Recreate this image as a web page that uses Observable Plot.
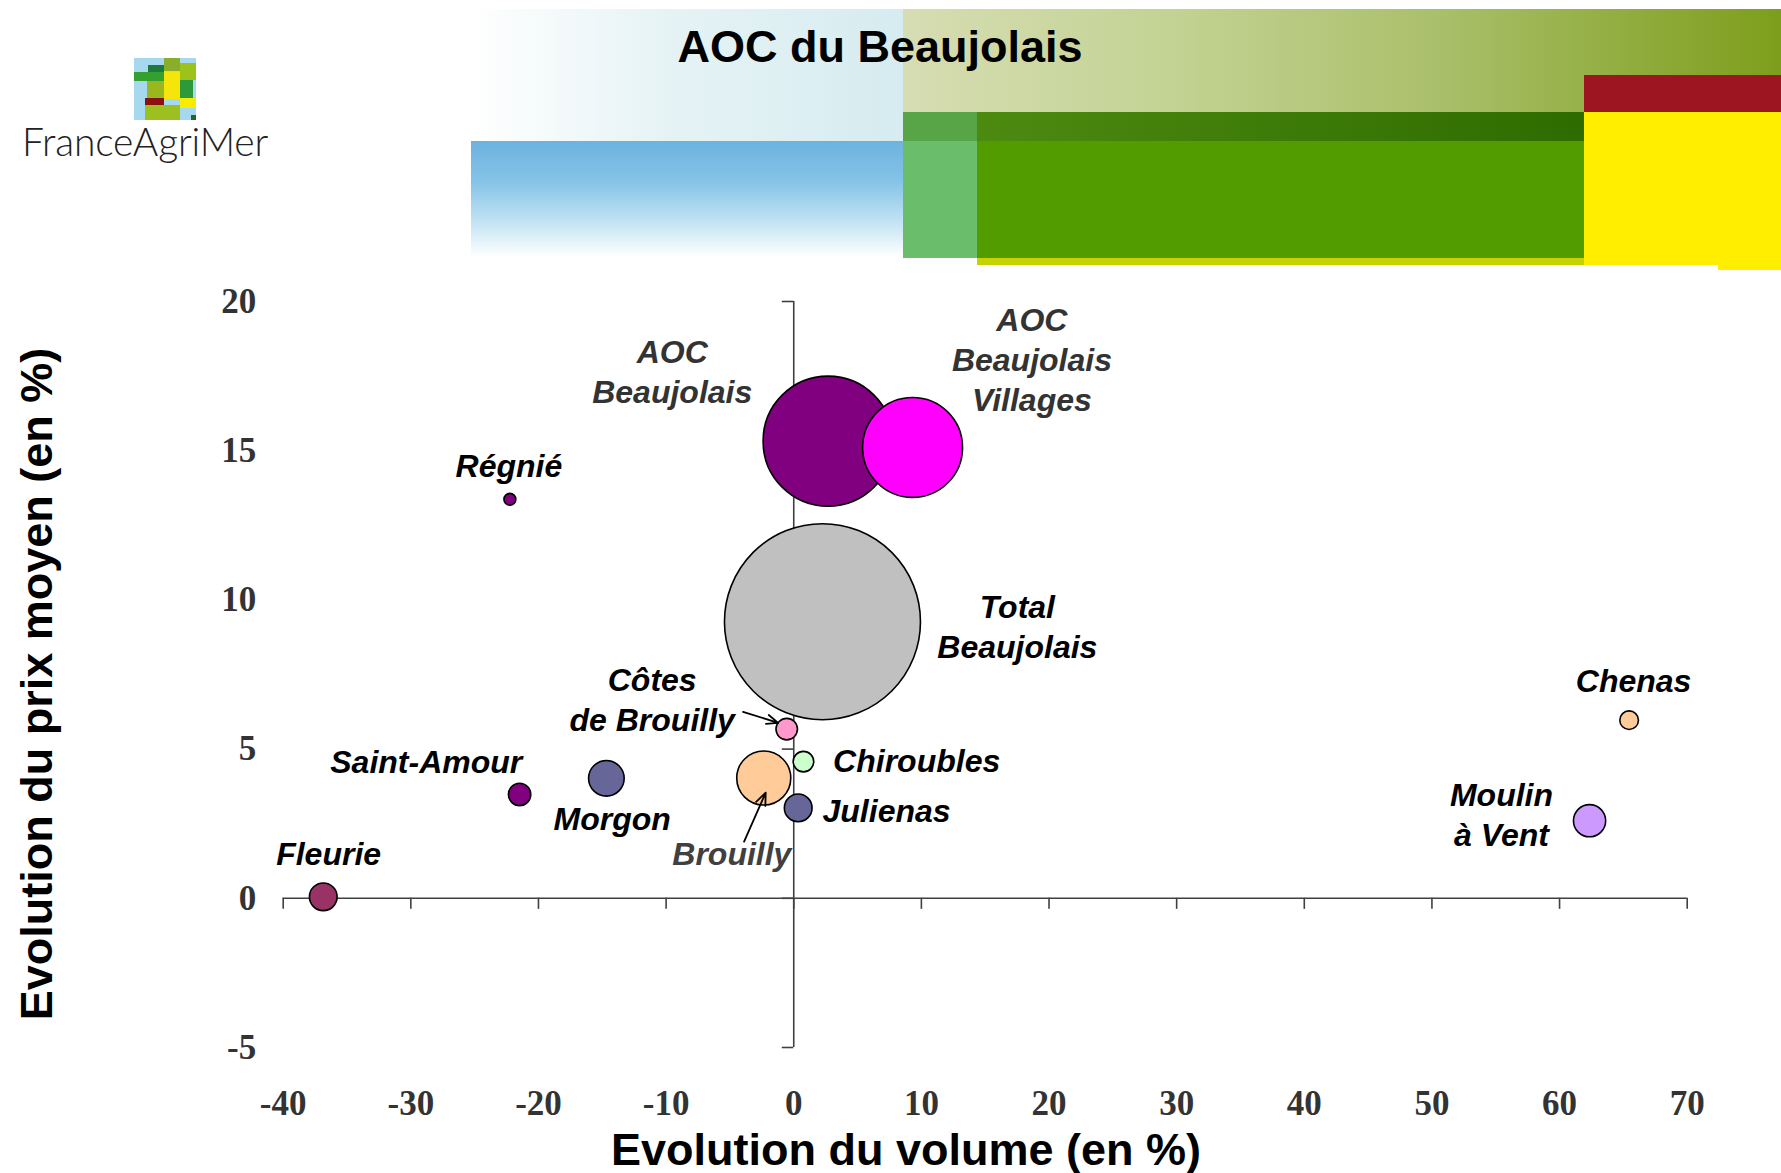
<!DOCTYPE html>
<html><head><meta charset="utf-8">
<script src="https://cdn.jsdelivr.net/npm/d3@7"></script>
<script src="https://cdn.jsdelivr.net/npm/@observablehq/plot@0.6"></script>
<style>
body{margin:0;background:#fff;}
#wrap{position:relative;width:1781px;height:1173px;overflow:hidden;background:#fff;}
.blk{position:absolute;}
.txt{position:absolute;white-space:nowrap;font-family:"Liberation Sans",Arial,sans-serif;font-weight:bold;color:#000;line-height:1;}
#chart{position:absolute;left:0;top:0;}
</style></head><body>
<div id="wrap">
  <!-- header decoration -->
  <div class="blk" style="left:471px;top:9px;width:432px;height:132px;background:linear-gradient(to right,#ffffff,#e6f3f5 45%,#d6ecf0);"></div>
  <div class="blk" style="left:471px;top:141px;width:432px;height:116px;background:linear-gradient(to bottom,#6cb3df 0%,#86c3e7 35%,#b9dff2 65%,#ffffff 100%);"></div>
  <div class="blk" style="left:903px;top:9px;width:878px;height:103px;background:linear-gradient(to right,#d7ddb3,#c3d394 30%,#abc06c 60%,#7d9e1c 100%);"></div>
  <div class="blk" style="left:903px;top:112px;width:74px;height:29px;background:#57a546;"></div>
  <div class="blk" style="left:903px;top:141px;width:74px;height:117px;background:#6abd6b;"></div>
  <div class="blk" style="left:977px;top:112px;width:607px;height:29px;background:linear-gradient(to right,#4c8a10,#2f6c00);"></div>
  <div class="blk" style="left:977px;top:141px;width:607px;height:117px;background:#529c00;"></div>
  <div class="blk" style="left:977px;top:258px;width:607px;height:7px;background:#c6d300;"></div>
  <div class="blk" style="left:1584px;top:75px;width:197px;height:37px;background:#9c1520;"></div>
  <div class="blk" style="left:1584px;top:112px;width:197px;height:153px;background:#ffee00;"></div>
  <div class="blk" style="left:1718px;top:265px;width:63px;height:5px;background:#ffee00;"></div>
  <!-- logo mosaic -->
  <div class="blk" style="left:134px;top:58px;width:62px;height:62px;background:#a6d8f0;"></div>
  <div class="blk" style="left:164px;top:58px;width:16px;height:13px;background:#8aad2a;"></div>
  <div class="blk" style="left:148px;top:65px;width:16px;height:7px;background:#1e7a3a;"></div>
  <div class="blk" style="left:134px;top:72px;width:30px;height:9px;background:#34a030;"></div>
  <div class="blk" style="left:180px;top:63px;width:16px;height:17px;background:#9cc31a;"></div>
  <div class="blk" style="left:164px;top:72px;width:16px;height:27px;background:#f5e50a;"></div>
  <div class="blk" style="left:147px;top:81px;width:17px;height:18px;background:#98b81e;"></div>
  <div class="blk" style="left:180px;top:80px;width:13px;height:19px;background:#2c9a3a;"></div>
  <div class="blk" style="left:145px;top:98px;width:19px;height:7px;background:#8b1010;"></div>
  <div class="blk" style="left:180px;top:98px;width:16px;height:10px;background:#f8ec00;"></div>
  <div class="blk" style="left:145px;top:105px;width:35px;height:15px;background:#9cc020;"></div>
  <div class="blk" style="left:191px;top:115px;width:5px;height:5px;background:#1a6a30;"></div>
  <div class="txt" style="left:22px;top:122px;font-family:Lato,'Open Sans',sans-serif;font-weight:300;font-size:39px;color:#222;letter-spacing:-0.2px;">FranceAgriMer</div>
  <div class="txt" style="left:880px;top:46px;transform:translate(-50%,-50%);font-size:45px;">AOC du Beaujolais</div>
  <div id="chart"></div>
  <div class="txt" style="left:906px;top:1149px;transform:translate(-50%,-50%);font-size:45px;">Evolution du volume (en %)</div>
  <div class="txt" style="left:36px;top:684px;transform:translate(-50%,-50%) rotate(-90deg);font-size:45px;">Evolution du prix moyen (en %)</div>
</div>
<script>
// Bubble data
const names = ["Total Beaujolais","AOC Beaujolais","AOC Beaujolais Villages","Brouilly","Morgon","Moulin à Vent","Julienas","Fleurie","Saint-Amour","Côtes de Brouilly","Chiroubles","Chenas","Régnié"];
const volumeEvol = [2.25, 2.69, 9.31, -2.35, -14.68, 62.35, 0.35, -36.86, -21.48, -0.55, 0.76, 65.45, -22.24];
const priceEvol  = [9.27, 15.32, 15.11, 4.03, 4.02, 2.6, 3.03, 0.05, 3.48, 5.67, 4.58, 5.97, 13.37];
const volumeIndex = [100, 44.0, 26.0, 7.6, 3.3, 2.7, 2.0, 2.0, 1.3, 1.2, 1.1, 0.9, 0.37];
const bubbleColors = ["#c0c0c0","#800080","#ff00ff","#ffcc99","#666699","#cc99ff","#666699","#993366","#800080","#ff99cc","#ccffcc","#ffcc99","#800080"];

// Labels (anchors in data units)
const labelText = ["Total\nBeaujolais","AOC\nBeaujolais","AOC\nBeaujolais\nVillages","Brouilly","Morgon","Moulin\nà Vent","Julienas","Fleurie","Saint-Amour","Côtes\nde Brouilly","Chiroubles","Chenas","Régnié"];
const labelX = [17.52, -9.52, 18.66, -4.85, -14.23, 55.45, 7.27, -36.44, -28.79, -11.09, 9.63, 65.8, -22.32];
const labelY = [9.16, 17.69, 18.1, 1.55, 2.72, 2.86, 3.0, 1.55, 4.62, 6.71, 4.66, 7.33, 14.56];
const labelColors = ["#000","#333","#333","#404040","#000","#000","#000","#000","#000","#000","#000","#000","#000"];

// Leader arrows (data units)
const arrowFromX = [-3.97, -3.89];
const arrowFromY = [6.25, 1.90];
const arrowToX = [-1.22, -2.20];
const arrowToY = [5.88, 3.54];

// Ticks
const xTicks = [-40,-30,-20,-10,0,10,20,30,40,50,60,70];
const yTicks = [-5,0,5,10,15,20];

const data = names.map((name, i) => ({name, x: volumeEvol[i], y: priceEvol[i], size: volumeIndex[i], color: bubbleColors[i]}));
const labels = labelText.map((t, i) => ({t, x: labelX[i], y: labelY[i], c: labelColors[i]}));
const arrows = arrowFromX.map((d, i) => ({x1: d, y1: arrowFromY[i], x2: arrowToX[i], y2: arrowToY[i]}));

const axisColor = "#404040";
const chart = Plot.plot({
  width: 1781, height: 1173,
  marginLeft: 282.7, marginRight: 94.3, marginTop: 301, marginBottom: 126,
  x: {domain: [-40, 70]},
  y: {domain: [-5, 20]},
  r: {type: "sqrt", domain: [0, 100], range: [0, 98]},
  color: {type: "identity"},
  style: {background: "transparent", overflow: "visible"},
  marks: [
    Plot.ruleY([0], {stroke: axisColor, strokeWidth: 1.6}),
    Plot.ruleX([0], {y1: -5, y2: 20, stroke: axisColor, strokeWidth: 1.6}),
    Plot.ruleX(xTicks, {x: d => d, y1: 0, y2: -0.37, stroke: axisColor, strokeWidth: 1.6}),
    Plot.ruleY(yTicks, {y: d => d, x1: -0.9, x2: 0, stroke: axisColor, strokeWidth: 1.6}),
    Plot.axisX({ticks: xTicks, anchor: "bottom", tickSize: 0, tickPadding: 43, tickFormat: d => String(d), label: null,
      fontSize: 35, fontFamily: "Liberation Serif, Times New Roman, serif", fontWeight: "bold", color: "#333"}),
    Plot.axisY({ticks: yTicks, anchor: "left", tickSize: 0, tickPadding: 27, tickFormat: d => String(d), label: null,
      fontSize: 35, fontFamily: "Liberation Serif, Times New Roman, serif", fontWeight: "bold", color: "#333"}),
    Plot.dot(data, {x: "x", y: "y", r: "size", fill: "color", stroke: "black", strokeWidth: 1.6}),
    Plot.arrow(arrows, {x1: "x1", y1: "y1", x2: "x2", y2: "y2", stroke: "black", strokeWidth: 1.8, headLength: 11, headAngle: 45}),
    Plot.text(labels, {x: "x", y: "y", text: "t", fill: "c", fontSize: 32, fontWeight: "bold", fontStyle: "italic",
      fontFamily: "Liberation Sans, Arial, sans-serif", lineHeight: 1.26, lineAnchor: "middle", textAnchor: "middle"})
  ]
});
document.getElementById("chart").appendChild(chart);
</script>
</body></html>
